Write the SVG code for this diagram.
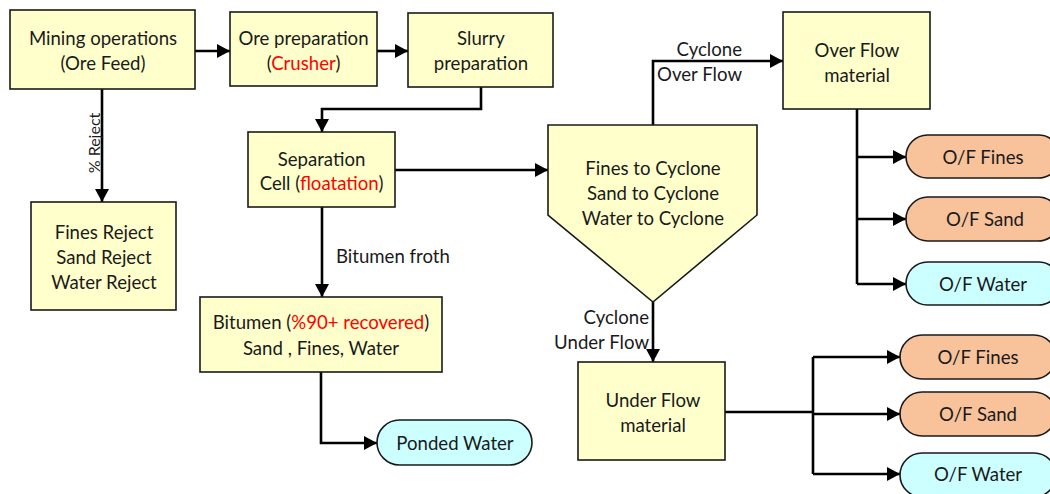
<svg xmlns="http://www.w3.org/2000/svg" width="1050" height="494" viewBox="0 0 1050 494">
<defs>
<style>
.box{fill:#FFFFCC;stroke:#1a1a1a;stroke-width:1.6}
.orange{fill:#F8C29B;stroke:#1a1a1a;stroke-width:1.6}
.cyan{fill:#CCFFFF;stroke:#1a1a1a;stroke-width:1.6}
.t{font-family:Lato,"Liberation Sans",sans-serif;font-size:18.6px;fill:#1a1a1a;text-anchor:middle;dominant-baseline:central}
.l{font-family:Lato,"Liberation Sans",sans-serif;font-size:18.6px;fill:#1a1a1a;dominant-baseline:central}
.red{fill:#FF0000}
.c{fill:none;stroke:#000;stroke-width:2.6;marker-end:url(#ah)}
.cn{fill:none;stroke:#000;stroke-width:2.6}
</style>
<marker id="ah" markerUnits="userSpaceOnUse" markerWidth="14" markerHeight="14" refX="13" refY="7" orient="auto">
<path d="M0,0 L13,7 L0,14 z" fill="#000"/>
</marker>
</defs>
<rect width="1050" height="494" fill="#fff"/>
<g id="connectors">
<path class="c" d="M195,51 H230"/>
<path class="c" d="M377,51 H408"/>
<path class="c" d="M481,87 V109 H322 V132"/>
<path class="c" d="M102,89 V202"/>
<text class="l" text-anchor="middle" font-size="16px" style="font-size:16px" transform="translate(93,143) rotate(-90)">% Reject</text>
<path class="c" d="M395,170 H548"/>
<path class="c" d="M322,207 V297"/>
<text class="l" x="336" y="256">Bitumen froth</text>
<path class="c" d="M321,372 V443 H377"/>
<path class="c" d="M653,125 V61 H783"/>
<text class="l" x="742" y="49" text-anchor="end">Cyclone</text>
<text class="l" x="742" y="74" text-anchor="end">Over Flow</text>
<path class="cn" d="M857,109 V284"/>
<path class="c" d="M857,157 H906"/>
<path class="c" d="M857,219 H906"/>
<path class="c" d="M857,284 H906"/>
<path class="c" d="M653,302 V362"/>
<text class="l" x="649" y="317" text-anchor="end">Cyclone</text>
<text class="l" x="649" y="342" text-anchor="end">Under Flow</text>
<path class="cn" d="M725,412 H813 M813,357 V474"/>
<path class="c" d="M813,357 H900"/>
<path class="c" d="M813,414 H900"/>
<path class="c" d="M813,474 H900"/>
</g>
<g id="mining">
<rect class="box" x="10" y="10" width="185" height="79"/>
<text class="t" x="103" y="38">Mining operations</text>
<text class="t" x="103" y="63">(Ore Feed)</text>
</g>
<g id="ore">
<rect class="box" x="230" y="12" width="147" height="74"/>
<text class="t" x="303.5" y="38">Ore preparation</text>
<text class="t" x="303.5" y="63">(<tspan class="red">Crusher</tspan>)</text>
</g>
<g id="slurry">
<rect class="box" x="408" y="13" width="145" height="74"/>
<text class="t" x="481" y="38">Slurry</text>
<text class="t" x="481" y="63">preparation</text>
</g>
<g id="reject">
<rect class="box" x="31" y="202" width="145" height="108"/>
<text class="t" x="104" y="232">Fines Reject</text>
<text class="t" x="104" y="257">Sand Reject</text>
<text class="t" x="104" y="282">Water Reject</text>
</g>
<g id="separation">
<rect class="box" x="248" y="132" width="147" height="75"/>
<text class="t" x="321.5" y="159">Separation</text>
<text class="t" x="321.5" y="183">Cell (<tspan class="red">floatation</tspan>)</text>
</g>
<g id="bitumen">
<rect class="box" x="200" y="297" width="242" height="75"/>
<text class="t" x="321" y="322">Bitumen (<tspan class="red">%90+ recovered</tspan>)</text>
<text class="t" x="321" y="348">Sand , Fines, Water</text>
</g>
<g id="ponded">
<rect class="cyan" x="377" y="420" width="155" height="45" rx="22.5"/>
<text class="t" x="455" y="443">Ponded Water</text>
</g>
<g id="cyclone">
<polygon class="box" points="548,125 757,125 757,215 653,302 548,215"/>
<text class="t" x="653" y="168">Fines to Cyclone</text>
<text class="t" x="653" y="193">Sand to Cyclone</text>
<text class="t" x="653" y="218">Water to Cyclone</text>
</g>
<g id="overflow">
<rect class="box" x="783" y="12" width="147" height="97"/>
<text class="t" x="857" y="50">Over Flow</text>
<text class="t" x="857" y="75">material</text>
</g>
<g id="of-fines-top">
<rect class="orange" x="906" y="135" width="154" height="43" rx="21.5"/>
<text class="t" x="983" y="157">O/F Fines</text>
</g>
<g id="of-sand-top">
<rect class="orange" x="906" y="197" width="154" height="44" rx="22"/>
<text class="t" x="985" y="219">O/F Sand</text>
</g>
<g id="of-water-top">
<rect class="cyan" x="906" y="262" width="154" height="43" rx="21.5"/>
<text class="t" x="983" y="284">O/F Water</text>
</g>
<g id="underflow">
<rect class="box" x="578" y="362" width="147" height="98"/>
<text class="t" x="653" y="400">Under Flow</text>
<text class="t" x="653" y="425">material</text>
</g>
<g id="of-fines-bottom">
<rect class="orange" x="900" y="335" width="156" height="44" rx="22"/>
<text class="t" x="978" y="357">O/F Fines</text>
</g>
<g id="of-sand-bottom">
<rect class="orange" x="900" y="392" width="156" height="44" rx="22"/>
<text class="t" x="978" y="414">O/F Sand</text>
</g>
<g id="of-water-bottom">
<rect class="cyan" x="900" y="453" width="156" height="44" rx="22"/>
<text class="t" x="978" y="474">O/F Water</text>
</g>
</svg>
